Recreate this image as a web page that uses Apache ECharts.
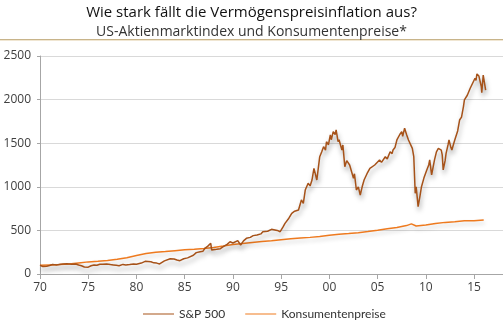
<!DOCTYPE html>
<html>
<head>
<meta charset="utf-8">
<script src="https://cdn.jsdelivr.net/npm/echarts@6/dist/echarts.min.js"></script>
<style>
html,body{margin:0;padding:0;background:#fff;}
#chart{width:503px;height:321px;}
</style>
</head>
<body>
<div id="chart"></div>
<script>
const titleText = 'Wie stark fällt die Vermögenspreisinflation aus?';
const subtitleText = 'US-Aktienmarktindex und Konsumentenpreise*';
const seriesNames = ['S&P 500', 'Konsumentenpreise'];
const yTicks = [0, 500, 1000, 1500, 2000, 2500];

const spYears = [1970.0,1970.3,1970.45,1970.7,1971.0,1971.3,1971.7,1972.0,1972.4,1972.8,1973.0,1973.3,1973.7,1974.0,1974.3,1974.6,1974.8,1975.0,1975.3,1975.6,1975.9,1976.2,1976.5,1976.9,1977.3,1977.6,1977.9,1978.2,1978.6,1978.9,1979.3,1979.7,1980.0,1980.2,1980.5,1980.9,1981.1,1981.5,1981.8,1982.1,1982.4,1982.6,1982.9,1983.1,1983.5,1983.9,1984.2,1984.5,1984.9,1985.3,1985.5,1985.9,1986.2,1986.6,1986.9,1987.1,1987.4,1987.7,1987.8,1988.0,1988.3,1988.7,1989.0,1989.4,1989.7,1990.0,1990.5,1990.8,1991.1,1991.4,1991.8,1992.1,1992.5,1992.9,1993.1,1993.6,1994.0,1994.2,1994.6,1994.9,1995.2,1995.4,1995.8,1996.1,1996.4,1996.8,1997.1,1997.3,1997.5,1997.8,1998.0,1998.2,1998.4,1998.7,1999.0,1999.2,1999.4,1999.6,1999.7,1999.9,2000.1,2000.2,2000.4,2000.6,2000.7,2000.9,2001.0,2001.3,2001.4,2001.6,2001.8,2002.1,2002.3,2002.5,2002.6,2002.8,2003.0,2003.2,2003.4,2003.6,2003.9,2004.2,2004.4,2004.7,2004.9,2005.2,2005.4,2005.8,2006.0,2006.3,2006.5,2006.6,2006.8,2007.0,2007.3,2007.5,2007.6,2007.8,2008.0,2008.2,2008.4,2008.6,2008.75,2008.9,2009.0,2009.2,2009.4,2009.55,2009.8,2010.1,2010.3,2010.4,2010.6,2010.9,2011.1,2011.3,2011.45,2011.6,2011.7,2011.8,2012.0,2012.1,2012.3,2012.4,2012.6,2012.7,2012.9,2013.0,2013.3,2013.5,2013.7,2013.9,2014.0,2014.3,2014.6,2014.8,2015.1,2015.2,2015.3,2015.5,2015.6,2015.75,2015.8,2015.95,2016.05,2016.2];
const spValues = [100,85,77,90,97,108,103,110,115,118,122,112,115,103,95,80,65,78,95,103,100,112,111,115,108,104,100,95,110,103,108,115,111,105,125,145,149,140,128,125,115,120,150,165,175,172,160,153,175,185,199,215,245,256,262,295,320,352,275,270,283,290,313,340,370,355,382,333,380,409,420,440,447,460,485,490,512,495,500,485,540,581,640,696,720,734,849,810,963,1040,1010,1078,1212,1078,1345,1400,1460,1420,1517,1480,1594,1540,1632,1600,1652,1517,1540,1422,1480,1231,1300,1250,1270,1098,1150,963,1000,906,1000,1078,1150,1212,1190,1250,1230,1308,1280,1345,1320,1403,1380,1422,1450,1537,1600,1632,1580,1671,1600,1537,1550,1441,1345,925,1001,772,900,1001,1100,1193,1250,1308,1136,1308,1400,1440,1460,1420,1365,1193,1300,1384,1480,1537,1450,1422,1500,1537,1640,1766,1800,1920,1996,2050,2130,2150,2245,2220,2294,2270,2263,2150,2080,2282,2260,2110];

const cpiYears = [1970,1971,1972,1973,1974,1975,1976,1977,1978,1979,1980,1981,1982,1983,1984,1985,1986,1987,1988,1989,1990,1991,1992,1993,1994,1995,1996,1997,1998,1999,2000,2001,2002,2003,2004,2005,2006,2007,2008,2008.5,2009,2010,2011,2012,2013,2014,2015,2016];
const cpiValues = [100,104,108,114,127,139,147,156,168,187,212,234,249,257,268,277,283,293,305,320,337,351,362,372,382,393,404,414,420,429,444,456,464,474,487,503,520,534,555,575,550,562,580,592,600,610,611,619];

const spData = spYears.map((y, i) => [y, spValues[i]]);
const cpiData = cpiYears.map((y, i) => [y, cpiValues[i]]);

const chart = echarts.init(document.getElementById('chart'), null, {renderer: 'canvas'});
const FONT = "'Open Sans', 'Noto Sans', sans-serif";
chart.setOption({
  animation: false,
  backgroundColor: '#ffffff',
  textStyle: {fontFamily: FONT},
  title: [
    {text: titleText, left: 'center', top: 0,
     textStyle: {fontFamily: FONT, fontSize: 15, fontWeight: 'normal', color: '#111'}},
    {text: subtitleText, left: 'center', top: 20,
     textStyle: {fontFamily: FONT, fontSize: 14, fontWeight: 'normal', color: '#333'}}
  ],
  graphic: [
    {type: 'rect', left: 0, top: 39, shape: {width: 503, height: 1}, style: {fill: '#c8b48a'}},
    {type: 'rect', left: 0, top: 40, shape: {width: 503, height: 1}, style: {fill: '#f0e6d2'}}
  ],
  legend: {
    bottom: 1, left: 143, padding: 0, itemWidth: 31, itemHeight: 10, itemGap: 20,
    icon: 'path://M0,4.5 L31,4.5 L31,5.5 L0,5.5 Z',
    textStyle: {fontFamily: "Lato, 'Open Sans', sans-serif", fontSize: 12, color: '#333'},
    data: seriesNames
  },
  grid: {left: 40, right: 0, top: 56, bottom: 47, containLabel: false},
  xAxis: {
    type: 'value', min: 1970, max: 2018, interval: 5,
    axisLine: {show: true, lineStyle: {color: '#a6a6a6', width: 1}},
    axisTick: {show: true, length: 5, lineStyle: {color: '#a6a6a6'}},
    splitLine: {show: false},
    axisLabel: {
      margin: 8, fontSize: 12, color: '#404040', fontFamily: FONT,
      showMaxLabel: false,
      formatter: v => (v % 5 === 0) ? String(v % 100).padStart(2, '0') : ''
    }
  },
  yAxis: {
    type: 'value', min: yTicks[0], max: yTicks[yTicks.length - 1], interval: 500,
    axisLine: {show: true, lineStyle: {color: '#a6a6a6', width: 1}},
    axisTick: {show: true, length: 3, lineStyle: {color: '#a6a6a6'}},
    splitLine: {show: true, lineStyle: {color: '#d9d9d9', width: 1}},
    axisLabel: {margin: 9, fontSize: 12, color: '#404040', fontFamily: FONT,
      formatter: v => String(v)}
  },
  series: [
    {
      name: seriesNames[0], type: 'line', data: spData, showSymbol: false, symbol: 'none',
      itemStyle: {color: '#a65219'},
      lineStyle: {color: '#a65219', width: 1.5,
        shadowColor: 'rgba(0,0,0,0.35)', shadowBlur: 5, shadowOffsetX: 1, shadowOffsetY: 4},
      z: 3
    },
    {
      name: seriesNames[1], type: 'line', data: cpiData, showSymbol: false, symbol: 'none',
      itemStyle: {color: '#ee7a1f'},
      lineStyle: {color: '#ee7a1f', width: 1.5,
        shadowColor: 'rgba(0,0,0,0.2)', shadowBlur: 4, shadowOffsetX: 1, shadowOffsetY: 3},
      z: 2
    }
  ]
});
</script>
</body>
</html>
